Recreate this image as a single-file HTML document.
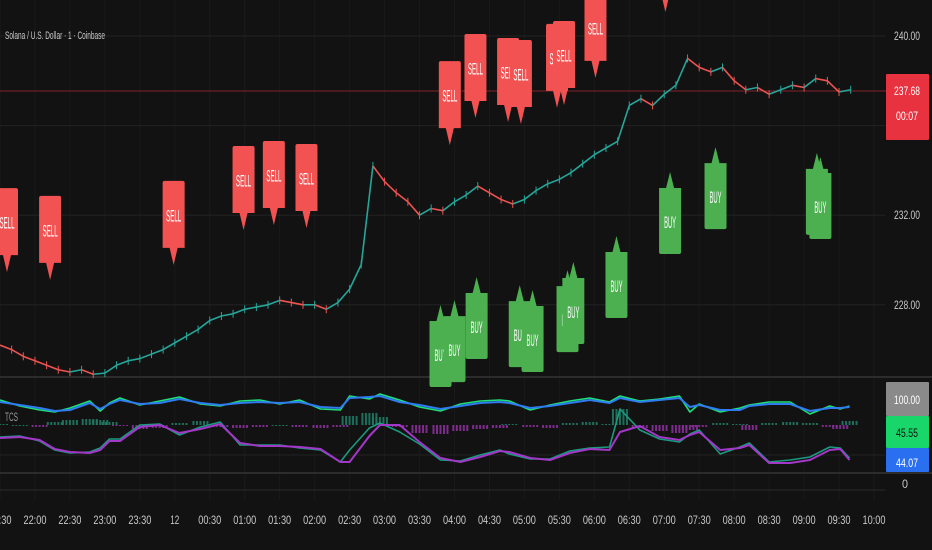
<!DOCTYPE html>
<html><head><meta charset="utf-8">
<style>
html,body{margin:0;padding:0;background:#121212;width:932px;height:550px;overflow:hidden}
svg{display:block}
text{font-family:"Liberation Sans",sans-serif}
</style></head>
<body>
<svg id="chart" width="932" height="550" viewBox="0 0 932 550">
<rect x="0" y="0" width="932" height="550" fill="#121212"/>
<g id="grid"></g>
<g id="price"></g>
<g id="ind"></g>
<g id="signals"></g>
<g id="axes"></g>
<text x="5" y="39" font-size="11" fill="#c8c8c8" textLength="100" lengthAdjust="spacingAndGlyphs">Solana / U.S. Dollar · 1 · Coinbase</text>
<text x="5" y="421" font-size="12" fill="#9a9a9a" textLength="13" lengthAdjust="spacingAndGlyphs">TCS</text>
</svg>
<script>
// ---- data ----
const closes = [226.2,226.0,225.7,225.5,225.3,225.1,225.0,225.1,224.9,224.95,225.3,225.5,225.6,225.8,226.0,226.3,226.6,226.9,227.3,227.5,227.6,227.8,227.9,228.0,228.2,228.1,228.0,228.0,227.8,228.1,228.7,229.8,234.2,233.5,233.0,232.6,232.0,232.3,232.2,232.6,232.9,233.3,233.0,232.7,232.5,232.7,233.1,233.4,233.6,233.9,234.3,234.7,235.0,235.3,236.9,237.2,236.9,237.4,237.8,239.0,238.6,238.4,238.6,238.0,237.6,237.7,237.4,237.6,237.8,237.7,238.1,238.0,237.5,237.6];
const barMinutes = 10;
const priceTicks = [240, 236, 232, 228];
const priceTickLabels = ["240.00","","232.00","228.00"];
const lastPrice = 237.68;
const timeLabels = ["21:30","22:00","22:30","23:00","23:30","12","00:30","01:00","01:30","02:00","02:30","03:00","03:30","04:00","04:30","05:00","05:30","06:00","06:30","07:00","07:30","08:00","08:30","09:00","09:30","10:00"];
const sellTimes = [6,43,149,209,235,263,386,408,436,447,478,484,511,571];
const sellPrices = [229.46,229.11,229.78,231.34,231.56,231.43,235.13,236.34,236.16,236.07,236.79,236.92,238.13,241.07];
const buyTimes = [378,390,409,446,457,487,492,529,575,614,701,704];
const buyPrices = [227.99,228.21,229.24,228.88,228.66,229.55,229.91,231.07,233.93,235.04,234.78,234.6];
const indMinutes = [0,17,34,47,60,77,86,94,103,120,137,154,172,189,206,223,240,257,275,292,300,317,326,343,360,378,395,412,429,437,455,472,489,506,523,532,549,566,583,592,600,618,635,643,660,678,695,712,721,729];
const blueVals = [70,67,64,61,62,69,63,68,72,68,69,73,69,67,69,70,69,70,65,64,74,75,76,70,67,63,66,69,70,69,64,66,69,72,69,74,70,72,74,65,67,62,62,66,68,68,61,64,64,65];
const greenVals = [72,66,62,60,64,71,61,69,74,67,71,75,68,66,71,72,68,72,63,62,76,73,78,72,65,61,68,71,72,71,62,67,71,74,70,76,71,73,76,60,68,60,64,67,70,70,58,66,63,66];
const purpleVals = [34,35,32,23,20,19,22,31,31,45,47,39,43,48,29,26,26,25,23,10,10,36,47,47,30,14,10,15,21,20,14,12,19,23,22,40,46,35,32,37,40,22,24,27,9,9,12,22,23,12];
const tealVals = [35,36,31,22,19,20,24,33,33,47,48,37,45,50,27,27,27,24,22,10,22,44,49,40,28,12,11,17,22,18,13,13,21,24,25,63,42,33,30,38,42,18,25,29,10,12,15,25,24,14];
const histVals = [1,0,-2,3,5,6,5,3,-1,-4,-3,2,4,-2,-3,-2,0,-2,-3,-2,9,12,8,-2,-8,-9,-6,-4,-3,1,-2,-3,2,3,1,16,-3,-6,-8,-5,-2,2,1,-5,2,3,2,-2,-4,4];

// ---- axis functions ----
const pxPerMin = 34.96/30;
const X = m => m * pxPerMin;
const Y = p => 36 + (240 - p) * 22.4;
const IY = v => 472 - v;
const HB = 425;
const NS = "http://www.w3.org/2000/svg";
function mk(tag, attrs, parent){ const e=document.createElementNS(NS,tag); for(const k in attrs) e.setAttribute(k,attrs[k]); parent.appendChild(e); return e; }
function lbl(parent,x,y,txt,len,fill,size){
  const t = mk('text',{x:x,y:y,'font-size':size||11,fill:fill,'text-anchor':'middle',textLength:len,lengthAdjust:'spacingAndGlyphs'},parent);
  t.textContent = txt; return t;
}

const grid = document.getElementById('grid');
const axes = document.getElementById('axes');
timeLabels.forEach((t,i)=>{
  const x = X(i*30);
  const l = mk('line',{x1:x,y1:0,x2:x,y2:500,stroke:'#1a1a1a','stroke-width':1},grid);
  
  
  const tx = lbl(axes,x,524,t,t.length>2?23:9,'#c8c8c8',12);
  
  
});
priceTicks.forEach((p,i)=>{
  const y = Y(p);
  const l = mk('line',{x1:0,y1:y,x2:885,y2:y,stroke:'#222','stroke-width':1},grid);
  
  
  if(priceTickLabels[i]){
    const tx = lbl(axes,907,y+4,priceTickLabels[i],26,'#c8c8c8',12);
    
    
  }
});
[377,473].forEach(y=>{
  const l = mk('rect',{x:0,y:y-1,width:932,height:2,fill:'#2c2c2c'},grid);
  
  
});
const gl2 = mk('line',{x1:0,y1:455,x2:885,y2:455,stroke:'#222'},grid);


const gl3 = mk('line',{x1:0,y1:490,x2:885,y2:490,stroke:'#2a2a2a'},grid);


const zl = lbl(axes,905,488,'0',6,'#c8c8c8',12);



const lp = mk('line',{x1:0,y1:Y(lastPrice)+3,x2:886,y2:Y(lastPrice)+3,stroke:'#6e2025','stroke-width':1.2},grid);



const pg = document.getElementById('price');
for(let i=1;i<closes.length;i++){
  const up = closes[i]>=closes[i-1];
  const s = mk('line',{x1:X((i-1)*barMinutes),y1:Y(closes[i-1]),x2:X(i*barMinutes),y2:Y(closes[i]),stroke:up?'#26a69a':'#ef5350','stroke-width':1.6},pg);
  
  
  const w = mk('line',{x1:X(i*barMinutes),y1:Y(closes[i])-4,x2:X(i*barMinutes),y2:Y(closes[i])+4,stroke:up?'#26a69a':'#ef5350','stroke-width':1},pg);
  
  
}

const ig = document.getElementById('ind');
indMinutes.forEach((m,i)=>{
  const h = histVals[i];
  for(let k=-2;k<=2;k++){
    const r = mk('rect',{x:X(m)+k*3.5-1,y:h>=0?HB-h:HB,width:2,height:Math.max(Math.abs(h),1),fill:h>=0?'#1f7a64':'#8a2f9a',opacity:0.9},ig);
    
    
  }
});
function series(vals,color,w,name){
  const pts = indMinutes.map((m,i)=>X(m).toFixed(1)+','+IY(vals[i]).toFixed(1)).join(' ');
  const p = mk('polyline',{points:pts,fill:'none',stroke:color,'stroke-width':w,'stroke-linejoin':'round'},ig);
  
  
}
series(greenVals,'#1ee07a',1.6,'fast-line');
series(blueVals,'#2f7bf0',2,'slow-line');
series(tealVals,'#1a9a7f',1.6,'signal-teal-line');
series(purpleVals,'#a237c8',2,'signal-purple-line');

const sg = document.getElementById('signals');
sellTimes.forEach((m,i)=>{
  const x=X(m), tip=Y(sellPrices[i]);
  const g = mk('g',{},sg);
  
  
  const bb=tip-17, bt=bb-67;
  mk('path',{d:`M${x-11} ${bt+2} Q${x-11} ${bt} ${x-9} ${bt} L${x+9} ${bt} Q${x+11} ${bt} ${x+11} ${bt+2} L${x+11} ${bb} L${x+4} ${bb} L${x} ${tip} L${x-4} ${bb} L${x-11} ${bb} Z`,fill:'#f25252'},g);
  const t = mk('text',{x:0,y:0,'font-size':10,fill:'#fff','text-anchor':'middle',textLength:15,lengthAdjust:'spacingAndGlyphs',transform:`translate(${x},${(bt+bb)/2+7}) scale(1,1.7)`},g);
  t.textContent='SELL';
});
buyTimes.forEach((m,i)=>{
  const x=X(m), tip=Y(buyPrices[i]);
  const g = mk('g',{},sg);
  
  
  const bt=tip+16, bb=bt+66;
  mk('path',{d:`M${x-11} ${bt} L${x-4} ${bt} L${x} ${tip} L${x+4} ${bt} L${x+11} ${bt} L${x+11} ${bb-2} Q${x+11} ${bb} ${x+9} ${bb} L${x-9} ${bb} Q${x-11} ${bb} ${x-11} ${bb-2} Z`,fill:'#4caf50'},g);
  const t = mk('text',{x:0,y:0,'font-size':10,fill:'#fff','text-anchor':'middle',textLength:12,lengthAdjust:'spacingAndGlyphs',transform:`translate(${x},${(bt+bb)/2+7}) scale(1,1.7)`},g);
  t.textContent='BUY';
});

function box(y,h,fill,name){
  const g = mk('g',{},axes);
  
  
  mk('rect',{x:886,y:y,width:43,height:h,fill:fill,rx:1},g);
  return g;
}
const lb = box(Y(lastPrice)-14,66,'#e8323f','last-price-label');
lbl(lb,907,Y(lastPrice)+7,'237.68',26,'#fff',12);
lbl(lb,907,Y(lastPrice)+32,'00:07',22,'#fff',12);
const b1 = box(382,34,'#8a8a8a','indicator-max-label');
lbl(b1,907,404,'100.00',26,'#fff',12);
const b2 = box(416,32,'#19d66b','fast-value-label');
lbl(b2,907,437,'45.55',22,'#111',12);
const b3 = box(448,24,'#2a6ff0','slow-value-label');
lbl(b3,907,467,'44.07',22,'#fff',12);
</script>
</body></html>
